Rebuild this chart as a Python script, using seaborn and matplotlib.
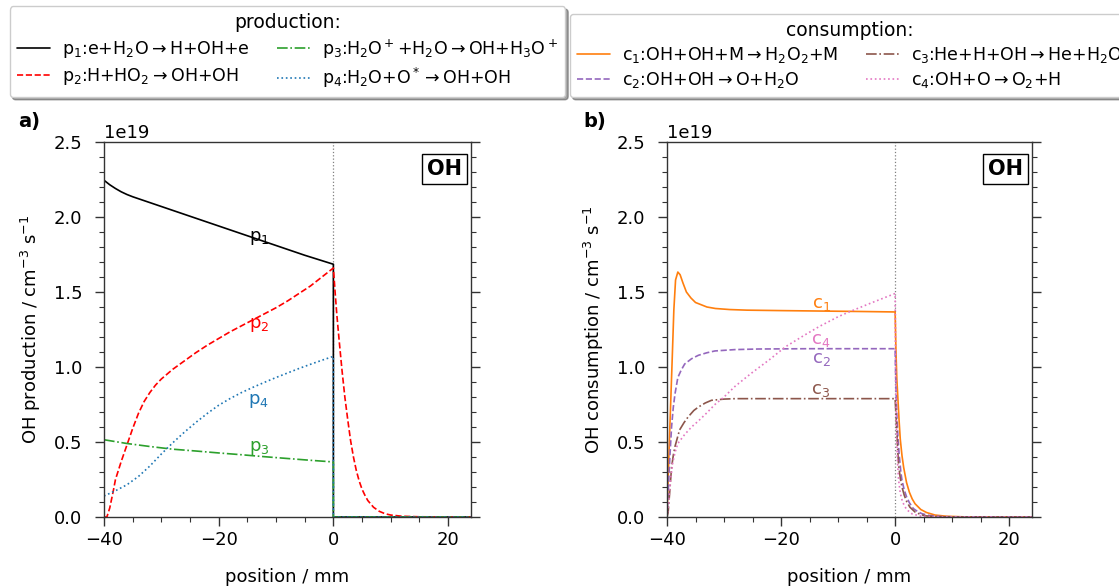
import numpy as np
import pandas as pd
import matplotlib
matplotlib.use("Agg")
import matplotlib.pyplot as plt
import seaborn as sns

SCALE = 1e19

# ---------------- production (panel a), values in 1e19 cm^-3 s^-1 ----------------
p1_x = [-40, -39, -38, -37, -36, -35, -30, -25, -20, -15, -10, -5, 0, 0, 24]
p1_y = [2.245, 2.215, 2.19, 2.168, 2.15, 2.135, 2.07, 2.005, 1.94, 1.875, 1.81, 1.745,
        1.685, 0.0, 0.0]

p2_x = [-40, -39.5, -39, -38.4, -38, -37, -36, -35, -34, -33, -32, -31, -30, -28, -26, -24,
        -22, -20, -18, -16, -14, -12, -10, -8, -6, -4, -2, 0,
        0.3, 0.6, 1.0, 1.5, 2.0, 2.5, 3.0, 3.5, 4.0, 4.5, 5.0, 5.5, 6.0, 7.0, 8.0, 9.0,
        10, 12, 15, 20, 24]
p2_y = [0.0, 0.0, 0.06, 0.17, 0.25, 0.37, 0.48, 0.59, 0.69, 0.77, 0.83, 0.88, 0.92, 0.985,
        1.04, 1.095, 1.145, 1.19, 1.235, 1.275, 1.315, 1.355, 1.395, 1.44, 1.49, 1.54, 1.60,
        1.66,
        1.50, 1.35, 1.18, 0.98, 0.80, 0.65, 0.51, 0.40, 0.31, 0.24, 0.185, 0.145, 0.11,
        0.065, 0.038, 0.022, 0.013, 0.005, 0.0015, 0.0002, 0.0]

p3_x = [-40, -36, -32, -28, -24, -20, -16, -12, -8, -4, 0, 0, 24]
p3_y = [0.515, 0.49, 0.47, 0.452, 0.44, 0.427, 0.415, 0.402, 0.39, 0.378, 0.367, 0.0, 0.0]

p4_x = [-40, -38, -36, -34, -32, -30, -28, -26, -24, -22, -20, -18, -16, -14, -12, -10,
        -8, -6, -4, -2, 0, 0, 24]
p4_y = [0.14, 0.175, 0.215, 0.27, 0.34, 0.42, 0.495, 0.565, 0.63, 0.69, 0.745, 0.79, 0.83,
        0.865, 0.898, 0.93, 0.96, 0.99, 1.018, 1.045, 1.071, 0.0, 0.0]

# ---------------- consumption (panel b) ----------------
c1_x = [-40, -39.8, -39.5, -39.1, -38.8, -38.5, -38.1, -37.7, -37.2, -36.6, -35.8, -35,
        -34, -33, -31.5, -29, -26, -20, -13, -6, 0,
        0.15, 0.3, 0.5, 0.7, 0.9, 1.2, 1.5, 2.0, 2.5, 3.0, 3.5, 4.5, 5.5, 7, 9, 12, 24]
c1_y = [0.0, 0.25, 0.6, 1.04, 1.38, 1.58, 1.633, 1.615, 1.56, 1.50, 1.46, 1.43, 1.415,
        1.40, 1.39, 1.383, 1.379, 1.376, 1.373, 1.37, 1.367,
        1.10, 0.92, 0.78, 0.64, 0.52, 0.41, 0.33, 0.23, 0.165, 0.12, 0.088, 0.05, 0.03,
        0.013, 0.005, 0.001, 0.0]

c2_x = [-40, -39.8, -39.5, -39.2, -38.9, -38.6, -38.1, -37.5, -36.9, -35.7, -34.5, -33,
        -31.6, -28.1, -24, -15, 0,
        0.15, 0.3, 0.5, 0.7, 1.0, 1.2, 1.6, 2.0, 2.5, 3.2, 4.0, 4.7, 6, 8, 11, 24]
c2_y = [0.0, 0.16, 0.40, 0.60, 0.73, 0.82, 0.93, 0.98, 1.02, 1.055, 1.078, 1.095, 1.107,
        1.116, 1.12, 1.122, 1.122,
        0.85, 0.68, 0.53, 0.42, 0.30, 0.245, 0.18, 0.135, 0.095, 0.056, 0.035, 0.022, 0.01,
        0.003, 0.0005, 0.0]

c3_x = [-40, -39.8, -39.5, -39.2, -38.9, -38.6, -37.8, -37, -36.3, -35.3, -34.5, -33.3,
        -32.2, -30, -28, 0,
        0.15, 0.3, 0.45, 0.6, 0.9, 1.2, 1.6, 2.0, 2.6, 3.5, 4.5, 5.3, 7, 10, 24]
c3_y = [0.0, 0.03, 0.18, 0.33, 0.41, 0.47, 0.58, 0.63, 0.667, 0.71, 0.733, 0.76, 0.778,
        0.786, 0.789, 0.789,
        0.68, 0.58, 0.45, 0.35, 0.26, 0.20, 0.145, 0.105, 0.065, 0.033, 0.016, 0.008,
        0.002, 0.0003, 0.0]

c4_x = [-40, -39.7, -39.4, -39, -38.6, -38.1, -37.5, -36.9, -35.7, -34.5, -33, -31.6, -30,
        -28.1, -25.3, -22, -19.3, -16, -13.3, -10, -7.9, -4, 0,
        0.1, 0.25, 0.4, 0.6, 0.9, 1.3, 2, 3, 4.5, 7, 24]
c4_y = [0.0, 0.10, 0.24, 0.36, 0.43, 0.49, 0.52, 0.55, 0.60, 0.64, 0.695, 0.75, 0.80,
        0.87, 0.956, 1.05, 1.133, 1.21, 1.27, 1.335, 1.37, 1.43, 1.49,
        0.90, 0.55, 0.38, 0.25, 0.16, 0.10, 0.05, 0.02, 0.006, 0.001, 0.0]

prod_labels = [r"p$_1$:e+H$_2$O$\rightarrow$H+OH+e",
               r"p$_2$:H+HO$_2$$\rightarrow$OH+OH",
               r"p$_3$:H$_2$O$^+$+H$_2$O$\rightarrow$OH+H$_3$O$^+$",
               r"p$_4$:H$_2$O+O$^*$$\rightarrow$OH+OH"]
cons_labels = [r"c$_1$:OH+OH+M$\rightarrow$H$_2$O$_2$+M",
               r"c$_2$:OH+OH$\rightarrow$O+H$_2$O",
               r"c$_3$:He+H+OH$\rightarrow$He+H$_2$O",
               r"c$_4$:OH+O$\rightarrow$O$_2$+H"]
prod_short = [r"p$_1$", r"p$_2$", r"p$_3$", r"p$_4$"]
cons_short = [r"c$_1$", r"c$_2$", r"c$_3$", r"c$_4$"]
prod_tag_y = [1.86, 1.28, 0.46, 0.77]
cons_tag_y = [1.42, 1.055, 0.845, 1.18]
tag_x = -13

sns.set_theme(style="ticks")
plt.rcParams.update({
    "font.family": ["DejaVu Sans"],
    "font.size": 13,
    "axes.labelsize": 13,
    "xtick.labelsize": 13,
    "ytick.labelsize": 13,
    "legend.fontsize": 12.5,
    "legend.title_fontsize": 13.5,
    "text.color": "black",
    "axes.labelcolor": "black",
    "axes.edgecolor": "0.2",
    "xtick.color": "0.2",
    "ytick.color": "0.2",
    "xtick.labelcolor": "black",
    "ytick.labelcolor": "black",
    "mathtext.default": "regular",
})

fig = plt.figure(figsize=(11.19, 5.88), dpi=100)
axL = fig.add_axes([104 / 1119, 71 / 588, 367 / 1119, 375 / 588])
axR = fig.add_axes([667 / 1119, 71 / 588, 365 / 1119, 375 / 588])

prod_series = [(p1_x, p1_y, "black", "-"), (p2_x, p2_y, "red", "--"),
               (p3_x, p3_y, "tab:green", "-."), (p4_x, p4_y, "tab:blue", ":")]
cons_series = [(c1_x, c1_y, "tab:orange", "-"), (c2_x, c2_y, "tab:purple", "--"),
               (c3_x, c3_y, "tab:brown", "-."), (c4_x, c4_y, "tab:pink", ":")]


def draw(ax, series, labels, tags, tag_y, title, ylabel):
    for (xs, ys, col, ls), lab in zip(series, labels):
        df = pd.DataFrame({"position": xs, "rate": np.array(ys) * SCALE})
        sns.lineplot(data=df, x="position", y="rate", ax=ax, color=col, linestyle=ls,
                     lw=1.2, label=lab, sort=False, estimator=None)
    for (xs, ys, col, ls), t, ty in zip(series, tags, tag_y):
        ax.text(tag_x, ty * SCALE, t, color=col, ha="center", va="center", fontsize=13)
    ax.axvline(0, color="gray", ls=":", lw=0.9, zorder=0)
    ax.set_xlim(-40, 24)
    ax.set_ylim(0, 2.5 * SCALE)
    ax.set_xticks([-40, -20, 0, 20])
    ax.set_yticks(np.arange(0, 2.51, 0.5) * SCALE)
    ax.xaxis.set_minor_locator(matplotlib.ticker.MultipleLocator(5))
    ax.yaxis.set_minor_locator(matplotlib.ticker.MultipleLocator(0.1 * SCALE))
    ax.tick_params(which="both", direction="out", right=True, top=False)
    ax.tick_params(which="major", length=6.5, width=1)
    ax.tick_params(which="minor", length=3.5, width=0.8)
    ax.tick_params(axis="y", which="major", pad=9)
    ax.set_xlabel("position / mm", labelpad=14)
    ax.set_ylabel(ylabel, labelpad=8)
    for s in ax.spines.values():
        s.set_visible(True)
        s.set_linewidth(1.0)
    ax.text(0.975, 0.955, "OH", transform=ax.transAxes, ha="right", va="top",
            fontsize=15, fontweight="bold",
            bbox=dict(boxstyle="square,pad=0.25", fc="white", ec="black", lw=1.0))
    ax.legend(loc="lower center", bbox_to_anchor=(0.5, 1.12), ncol=2, title=title,
              shadow=True, fancybox=True, handlelength=1.9, handletextpad=0.7,
              columnspacing=1.6, borderaxespad=0, labelspacing=0.3)


draw(axL, prod_series, prod_labels, prod_short, prod_tag_y, "production:",
     r"OH production / cm$^{-3}$ s$^{-1}$")
draw(axR, cons_series, cons_labels, cons_short, cons_tag_y, "consumption:",
     r"OH consumption / cm$^{-3}$ s$^{-1}$")

fig.text(18 / 1119, 1 - 122 / 588, "a)", fontsize=14, fontweight="bold", va="center")
fig.text(583 / 1119, 1 - 122 / 588, "b)", fontsize=14, fontweight="bold", va="center")

fig.savefig("out.png", dpi=100)
